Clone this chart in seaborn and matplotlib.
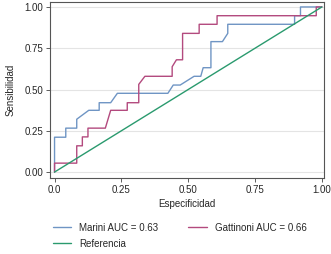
import matplotlib
matplotlib.use("Agg")
import matplotlib.pyplot as plt
import seaborn as sns

# ROC curve points
marini_x = [0, 0, 0.042, 0.042, 0.083, 0.083, 0.128, 0.167, 0.167, 0.21, 0.235,
            0.424, 0.444, 0.47, 0.522, 0.547, 0.556, 0.585, 0.585, 0.628, 0.648,
            0.648, 0.898, 0.898, 0.92, 0.92, 1.0]
marini_y = [0, 0.211, 0.211, 0.266, 0.266, 0.32, 0.374, 0.374, 0.42, 0.42, 0.477,
            0.477, 0.527, 0.527, 0.58, 0.58, 0.632, 0.632, 0.79, 0.79, 0.84,
            0.895, 0.895, 0.947, 0.947, 1.0, 1.0]

gattinoni_x = [0, 0, 0.083, 0.083, 0.104, 0.104, 0.125, 0.125, 0.19, 0.21, 0.272,
               0.272, 0.315, 0.315, 0.338, 0.44, 0.44, 0.456, 0.479, 0.479, 0.541,
               0.541, 0.608, 0.608, 0.979, 0.979, 1.0]
gattinoni_y = [0, 0.054, 0.054, 0.159, 0.159, 0.213, 0.213, 0.266, 0.266, 0.374,
               0.374, 0.42, 0.42, 0.531, 0.58, 0.58, 0.638, 0.68, 0.68, 0.84, 0.84,
               0.895, 0.895, 0.947, 0.947, 1.0, 1.0]

ref_x = [0, 1]
ref_y = [0, 1]

labels = ["Marini AUC = 0.63", "Gattinoni AUC = 0.66", "Referencia"]
colors = ["#6f95c4", "#b34a7e", "#2a9a6e"]
ticks = [0, 0.25, 0.5, 0.75, 1.0]
xticklabels = ["0.0", "0.25", "0.50", "0.75", "1.00"]
yticklabels = ["0.00", "0.25", "0.50", "0.75", "1.00"]

sns.set_style("white")
plt.rcParams["font.family"] = ["Liberation Sans", "DejaVu Sans"]

fig = plt.figure(figsize=(3.31, 2.54), dpi=100)
ax = fig.add_axes([50 / 331, 76 / 254, 274 / 331, 176 / 254])

sns.lineplot(x=marini_x, y=marini_y, sort=False, estimator=None, color=colors[0],
             linewidth=1.0, ax=ax, label=labels[0])
sns.lineplot(x=gattinoni_x, y=gattinoni_y, sort=False, estimator=None, color=colors[1],
             linewidth=1.0, ax=ax, label=labels[1])
sns.lineplot(x=ref_x, y=ref_y, sort=False, estimator=None, color=colors[2],
             linewidth=1.0, ax=ax, label=labels[2])

ax.set_xlim(-0.017, 1.008)
ax.set_ylim(-0.036, 1.03)
ax.set_xticks(ticks)
ax.set_xticklabels(xticklabels)
ax.set_yticks(ticks)
ax.set_yticklabels(yticklabels)
ax.yaxis.grid(True, color="#e4e4e4", linewidth=0.8)
ax.set_axisbelow(True)
ax.tick_params(axis="both", direction="out", length=3, width=0.6, color="#444444",
               labelsize=7, pad=2, left=True, bottom=True)
for sp in ax.spines.values():
    sp.set_color("#555555")
    sp.set_linewidth(0.8)

ax.set_xlabel("Especificidad", fontsize=7, labelpad=3)
ax.set_ylabel("Sensibilidad", fontsize=7, labelpad=6)

# legend below, two columns (fills column-wise)
handles, labs = ax.get_legend_handles_labels()
order = [0, 2, 1]
ax.get_legend().remove()
fig.legend([handles[i] for i in order], [labs[i] for i in order],
           loc="upper left", bbox_to_anchor=(49 / 331, 1 - 219 / 254), ncol=2,
           frameon=False, fontsize=7, handlelength=1.9, handletextpad=0.8,
           columnspacing=3.1, labelspacing=0.6, borderaxespad=0)

fig.savefig("out.png", dpi=100)
